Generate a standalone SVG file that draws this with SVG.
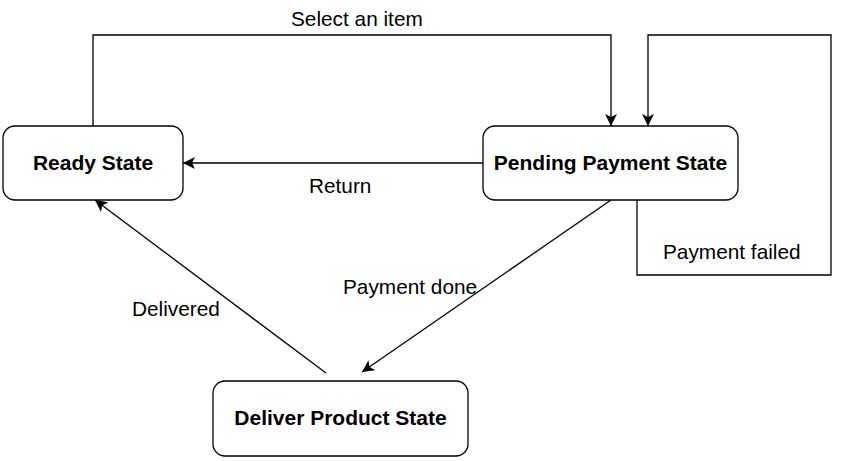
<svg xmlns="http://www.w3.org/2000/svg" width="844" height="461" viewBox="0 0 844 461">
<style>
.node{fill:#fff;stroke:#000;stroke-width:1.3}
.nt{font-family:"Liberation Sans",Arial,sans-serif;font-size:21px;font-weight:bold;fill:#000;text-anchor:middle}
.et{font-family:"Liberation Sans",Arial,sans-serif;font-size:20.8px;fill:#000}
.edge{fill:none;stroke:#000;stroke-width:1.3}
</style>
<defs>
<marker id="arr" viewBox="0 0 12 12" refX="12" refY="6" markerWidth="12" markerHeight="12" markerUnits="userSpaceOnUse" orient="auto">
<path d="M0,0 L12,6 L0,12 L3,6 Z" fill="#000"/>
</marker>
</defs>
<rect width="844" height="461" fill="#fff"/>
<g id="connectors">
<path class="edge" d="M93,126 V35 H611 V126" marker-end="url(#arr)"/>
<path class="edge" d="M483,163 H183" marker-end="url(#arr)"/>
<path class="edge" d="M637,200 V275 H831 V35 H648 V126" marker-end="url(#arr)"/>
<path class="edge" d="M611,200 L362,372" marker-end="url(#arr)"/>
<path class="edge" d="M326,373 L95,200" marker-end="url(#arr)"/>
<text class="et" x="291" y="26">Select an item</text>
<text class="et" x="309" y="193">Return</text>
<text class="et" x="663" y="259">Payment failed</text>
<text class="et" x="343" y="294">Payment done</text>
<text class="et" x="132" y="316">Delivered</text>
</g>
<g id="ready">
<rect class="node" x="3" y="126" width="180" height="74" rx="12"/>
<text class="nt" x="93" y="170">Ready State</text>
</g>
<g id="pending">
<rect class="node" x="483" y="126" width="255" height="74" rx="12"/>
<text class="nt" x="610.5" y="170">Pending Payment State</text>
</g>
<g id="deliver">
<rect class="node" x="213" y="381" width="255" height="75" rx="12"/>
<text class="nt" x="340.5" y="425">Deliver Product State</text>
</g>
</svg>
